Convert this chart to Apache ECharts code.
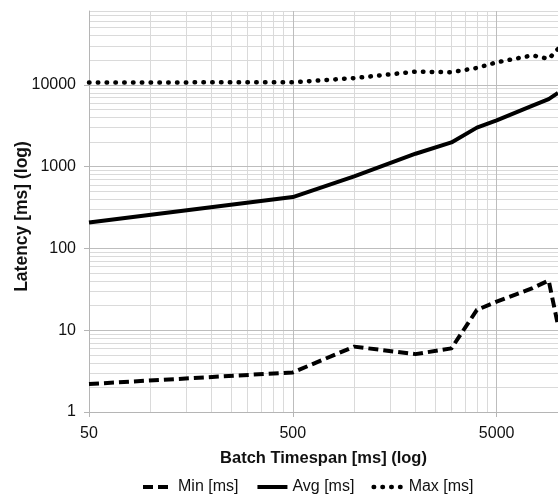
<!DOCTYPE html>
<html>
<head>
<meta charset="utf-8">
<script src="https://cdn.jsdelivr.net/npm/echarts@6/dist/echarts.min.js"></script>
<style>
  html, body { margin: 0; padding: 0; background: #fff; }
  #chart { width: 558px; height: 499px; }
</style>
</head>
<body>
<div id="chart"></div>
<script>
// batch timespan (x) and latency values
const batchTimespan = [50, 500, 1000, 2000, 3000, 4000, 5000, 7500, 9000, 10000]
const minLatency = [2.2, 3.05, 6.3, 5.1, 6.0, 17.7, 22.4, 32.7, 40.5, 11.5]
const avgLatency = [207, 425, 759, 1438, 1978, 3000, 3680, 5560, 6700, 7960]
const maxLatency = [10700, 10750, 12100, 14500, 14300, 16100, 18850, 22960, 20750, 27500]

// tick / gridline values
const xMajorTicks = [50, 500, 5000]
const xMinorTicks = [100, 150, 200, 250, 300, 350, 400, 450,
  1000, 1500, 2000, 2500, 3000, 3500, 4000, 4500]
const yMajorTicks = [1, 10, 100, 1000, 10000]
const yMinorTicks = [2, 3, 4, 5, 6, 7, 8, 9,
  20, 30, 40, 50, 60, 70, 80, 90,
  200, 300, 400, 500, 600, 700, 800, 900,
  2000, 3000, 4000, 5000, 6000, 7000, 8000, 9000,
  20000, 30000, 40000, 50000, 60000, 70000, 80000]

const FONT = '"Liberation Sans", Arial, Helvetica, sans-serif'

const chart = echarts.init(document.getElementById('chart'))

const pairs = (ys) => batchTimespan.map((x, i) => [x, ys[i]])

const minStyle = { color: '#000', width: 4, type: [10, 5], cap: 'butt', join: 'round' }
const avgStyle = { color: '#000', width: 4, type: 'solid', join: 'round' }
const maxStyle = { color: '#000', width: 4.5, type: [0.5, 8.3], cap: 'round', join: 'round' }

const baseAxis = {
  type: 'log',
  logBase: 10
}

const option = {
  animation: false,
  backgroundColor: '#fff',
  textStyle: { fontFamily: FONT },
  grid: { left: 89, right: 0, top: 11, bottom: 87, containLabel: false, outerBoundsMode: 'none' },
  legend: {
    top: 474,
    left: 136,
    itemWidth: 30,
    itemHeight: 14,
    itemGap: 17,
    itemStyle: { opacity: 0 },
    textStyle: { fontSize: 16, color: '#111', fontFamily: FONT },
    data: [
      { name: 'Min [ms]', lineStyle: minStyle },
      { name: 'Avg [ms]', lineStyle: avgStyle },
      { name: 'Max [ms]', lineStyle: maxStyle }
    ]
  },
  xAxis: [
    {
      ...baseAxis,
      min: 50,
      max: 10000,
      name: 'Batch Timespan [ms] (log)',
      nameLocation: 'middle',
      nameGap: 38,
      nameMoveOverlap: false,
      nameTextStyle: { fontSize: 16.5, fontWeight: 'bold', color: '#111', fontFamily: FONT },
      axisLine: { show: true, lineStyle: { color: '#b5b5b5', width: 1 } },
      axisTick: { show: true, length: 5, customValues: xMajorTicks, lineStyle: { color: '#b5b5b5' } },
      axisLabel: {
        fontSize: 16, color: '#111', margin: 14, customValues: xMajorTicks,
        formatter: (v) => String(v)
      },
      splitLine: { show: true, lineStyle: { color: '#bdbdbd', width: 1 } },
      z: 2
    },
    {
      ...baseAxis,
      min: 50,
      max: 10000,
      position: 'bottom',
      axisLine: { show: false },
      axisTick: { show: false, customValues: xMinorTicks },
      axisLabel: { show: false, customValues: xMinorTicks },
      splitLine: { show: true, lineStyle: { color: '#dadada', width: 1 } },
      z: 1
    }
  ],
  yAxis: [
    {
      ...baseAxis,
      min: 1,
      max: 80000,
      name: 'Latency [ms] (log)',
      nameLocation: 'middle',
      nameGap: 58,
      nameMoveOverlap: false,
      nameTextStyle: {
        fontSize: 17.5, fontWeight: 'bold', color: '#111', fontFamily: FONT,
        padding: [0, 10, 0, 0]
      },
      axisLine: { show: true, lineStyle: { color: '#b5b5b5', width: 1 } },
      axisTick: { show: true, length: 5, customValues: yMajorTicks, lineStyle: { color: '#b5b5b5' } },
      axisLabel: {
        fontSize: 16, color: '#111', margin: 13, customValues: yMajorTicks,
        formatter: (v) => String(v)
      },
      splitLine: { show: true, lineStyle: { color: '#bdbdbd', width: 1 } },
      z: 2
    },
    {
      ...baseAxis,
      min: 1,
      max: 80000,
      position: 'left',
      axisLine: { show: false },
      axisTick: { show: false, customValues: yMinorTicks },
      axisLabel: { show: false, customValues: yMinorTicks },
      splitLine: { show: true, lineStyle: { color: '#dadada', width: 1 } },
      z: 1
    }
  ],
  series: [
    {
      name: 'Min [ms]',
      type: 'line',
      data: pairs(minLatency),
      symbol: 'none',
      lineStyle: minStyle,
      itemStyle: { color: '#000' },
      z: 5
    },
    {
      name: 'Avg [ms]',
      type: 'line',
      data: pairs(avgLatency),
      symbol: 'none',
      lineStyle: avgStyle,
      itemStyle: { color: '#000' },
      z: 5
    },
    {
      name: 'Max [ms]',
      type: 'line',
      data: pairs(maxLatency),
      symbol: 'none',
      lineStyle: maxStyle,
      itemStyle: { color: '#000' },
      z: 5
    }
  ]
}

chart.setOption(option)
</script>
</body>
</html>
